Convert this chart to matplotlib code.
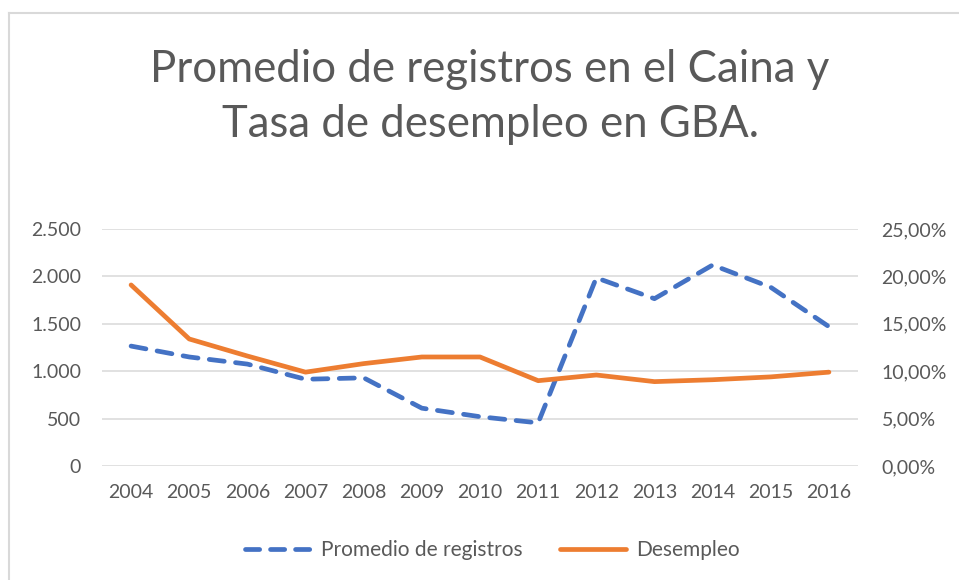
import numpy as np
import matplotlib
matplotlib.use("Agg")
import matplotlib.pyplot as plt
from matplotlib.ticker import FuncFormatter, MultipleLocator
from matplotlib.lines import Line2D

years = ["2004", "2005", "2006", "2007", "2008", "2009", "2010",
         "2011", "2012", "2013", "2014", "2015", "2016"]
registros = [1265, 1150, 1075, 915, 930, 610, 520,
             455, 1985, 1765, 2120, 1885, 1470]
desempleo = [0.191, 0.134, 0.116, 0.099, 0.108, 0.115, 0.115,
             0.090, 0.096, 0.089, 0.091, 0.094, 0.099]

gray = "#595959"
blue = "#4472C4"
orange = "#ED7D31"

plt.rcParams['font.family'] = ['Lato', 'DejaVu Sans']

fig = plt.figure(figsize=(9.59, 5.80), dpi=100)
ax = fig.add_axes([102/959, 1-466/580, (858-102)/959, (466-229)/580])
ax2 = ax.twinx()

xpos = np.arange(len(years))
ax.plot(xpos, registros, color=blue, lw=3.4, dashes=(3.2, 2.4),
        dash_capstyle='round', solid_capstyle='round', zorder=3,
        label="Promedio de registros")
ax2.plot(xpos, desempleo, color=orange, lw=3.4, solid_capstyle='round',
         solid_joinstyle='round', label="Desempleo")

ax.set_xlim(-0.5, len(years) - 0.5)
ax.set_ylim(0, 2500)
ax2.set_ylim(0, 0.25)
ax.yaxis.set_major_locator(MultipleLocator(500))
ax2.yaxis.set_major_locator(MultipleLocator(0.05))
ax.yaxis.set_major_formatter(FuncFormatter(lambda v, p: f"{int(v):,}".replace(",", ".")))
ax2.yaxis.set_major_formatter(FuncFormatter(lambda v, p: f"{v*100:.2f}%".replace(".", ",")))
ax.set_xticks(xpos)
ax.set_xticklabels(years)

ax.grid(axis='y', color="#d9d9d9", lw=1.1)
ax.set_axisbelow(True)
for a in (ax, ax2):
    for s in a.spines.values():
        s.set_visible(False)
ax.tick_params(axis='y', length=0, pad=15, labelsize=14, labelcolor=gray)
ax.tick_params(axis='x', length=0, pad=13, labelsize=14, labelcolor=gray)
ax2.tick_params(axis='y', length=0, pad=17, labelsize=14, labelcolor=gray)

fig.text(0.511, 1-97/580, "Promedio de registros en el Caina y\nTasa de desempleo en GBA.",
         ha='center', va='center', fontsize=31.5, color=gray, linespacing=1.45)

handles = [Line2D([], [], color=blue, lw=3.4, dashes=(3.0, 2.3), dash_capstyle='round'),
           Line2D([], [], color=orange, lw=3.4, solid_capstyle='round')]
fig.legend(handles, ["Promedio de registros", "Desempleo"], loc='center',
           bbox_to_anchor=(0.513, 1-550/580), ncol=2, frameon=False,
           fontsize=15, labelcolor=gray, handlelength=3.2, handletextpad=0.45,
           columnspacing=1.8)

# chart border (top and left visible)
fig.add_artist(Line2D([9/959, 9/959], [0, 1-13/580], color="#d9d9d9", lw=1.5,
                      transform=fig.transFigure))
fig.add_artist(Line2D([9/959, 1], [1-13/580, 1-13/580], color="#d9d9d9", lw=1.5,
                      transform=fig.transFigure))

fig.savefig("out.png", dpi=100)
